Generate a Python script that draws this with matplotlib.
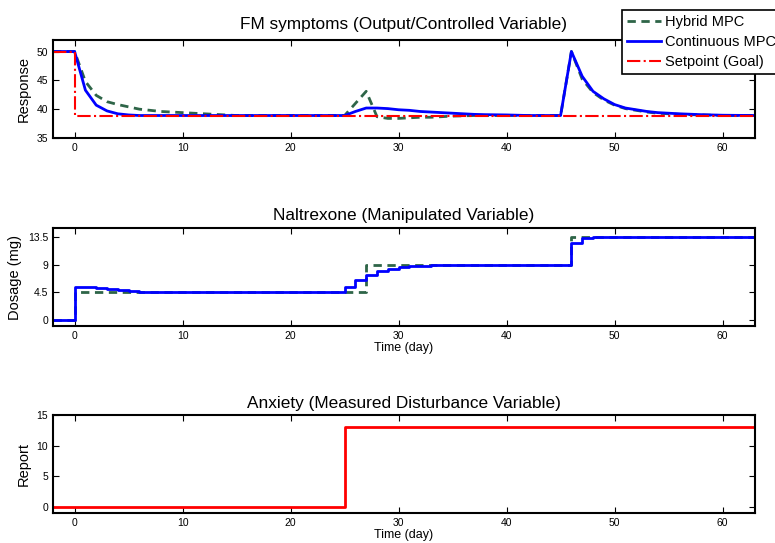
import numpy as np
import matplotlib
matplotlib.use('Agg')
import matplotlib.pyplot as plt

plt.rcParams['font.family'] = ['Liberation Sans', 'DejaVu Sans']

# FM symptoms response (days, values)
resp_days_cont = [-2, 0, 1, 2, 3, 4, 5, 6, 25, 26, 27, 28, 29, 30, 31, 32, 33, 34, 35, 36, 37, 38, 40, 42,
                  45, 46, 47, 48, 49, 50, 51, 52, 53, 54, 55, 56, 58, 60, 63]
resp_cont = [50, 50, 43.3, 40.7, 39.7, 39.2, 39.0, 38.9, 38.9, 39.6, 40.2, 40.2, 40.1, 39.9, 39.8, 39.6, 39.5,
             39.4, 39.3, 39.2, 39.1, 39.05, 39.0, 38.9,
             38.9, 50.0, 45.7, 43.1, 41.8, 40.8, 40.2, 39.9, 39.6, 39.4, 39.3, 39.2, 39.05, 38.95, 38.9]

resp_days_hyb = [-2, 0, 1, 2, 3, 4, 5, 6, 7, 8, 9, 10, 12, 15, 25, 26, 27, 28, 29, 30, 31, 32, 33, 34, 35, 37,
                 45, 46, 47, 48, 49, 50, 51, 52, 53, 54, 55, 56, 58, 60, 63]
resp_hyb = [50, 50, 44.8, 42.4, 41.3, 40.8, 40.4, 40.0, 39.8, 39.6, 39.5, 39.4, 39.2, 38.9, 38.9, 41.0, 43.1,
            38.7, 38.4, 38.4, 38.5, 38.6, 38.6, 38.7, 38.8, 38.9,
            38.9, 50.0, 45.2, 42.9, 41.6, 40.7, 40.1, 39.8, 39.5, 39.3, 39.2, 39.1, 39.0, 38.9, 38.9]

setpoint_days = [-2, 0, 0, 63]
setpoint = [50, 50, 38.9, 38.9]

# Naltrexone dosage (step, value holds from day until next day)
dose_days_cont = [-2, 0, 2, 3, 4, 5, 6, 7, 8, 25, 26, 27, 28, 29, 30, 31, 33, 46, 47, 48, 63]
dose_cont = [0, 5.4, 5.2, 5.0, 4.8, 4.7, 4.6, 4.55, 4.5, 5.3, 6.5, 7.4, 7.9, 8.3, 8.6, 8.8, 9.0, 12.6, 13.3,
             13.5, 13.5]

dose_days_hyb = [-2, 0, 27, 46, 63]
dose_hyb = [0, 4.5, 9.0, 13.5, 13.5]

# Anxiety disturbance
anx_days = [-2, 25, 63]
anxiety = [0, 13, 13]

green = '#2e6548'
blue = '#0000ff'
red = '#ff0000'

fig = plt.figure(figsize=(7.75, 5.43), dpi=100)
h = 98 / 543
ax1 = fig.add_axes([53 / 775, (543 - 138) / 543, 702 / 775, h])
ax2 = fig.add_axes([53 / 775, (543 - 326) / 543, 702 / 775, h])
ax3 = fig.add_axes([53 / 775, (543 - 513) / 543, 702 / 775, h])

# top panel
l1, = ax1.plot(resp_days_hyb, resp_hyb, '--', color=green, lw=2, dashes=(3, 2))
l2, = ax1.plot(resp_days_cont, resp_cont, '-', color=blue, lw=2)
l3, = ax1.plot(setpoint_days, setpoint, '-.', color=red, lw=1.5)
ax1.set_ylim(35, 52)
ax1.set_yticks([35, 40, 45, 50])
ax1.set_ylabel('Response', fontsize=10.5)
ax1.set_title('FM symptoms (Output/Controlled Variable)', fontsize=12.4, pad=8)

# middle panel
ax2.step(dose_days_hyb, dose_hyb, where='post', ls='--', color=green, lw=2, dashes=(3, 2))
ax2.step(dose_days_cont, dose_cont, where='post', color=blue, lw=2)
ax2.set_ylim(-1, 15)
ax2.set_yticks([0, 4.5, 9, 13.5])
ax2.set_yticklabels(['0', '4.5', '9', '13.5'])
ax2.set_ylabel('Dosage (mg)', fontsize=10.5)
ax2.set_xlabel('Time (day)', fontsize=9, labelpad=1)
ax2.set_title('Naltrexone (Manipulated Variable)', fontsize=12.4, pad=6)

# bottom panel
ax3.step(anx_days, anxiety, where='post', color=red, lw=2)
ax3.set_ylim(-1, 15)
ax3.set_yticks([0, 5, 10, 15])
ax3.set_ylabel('Report', fontsize=10.5)
ax3.set_xlabel('Time (day)', fontsize=9, labelpad=1)
ax3.set_title('Anxiety (Measured Disturbance Variable)', fontsize=12.4, pad=5)

for ax in (ax1, ax2, ax3):
    ax.set_xlim(-2, 63)
    ax.set_xticks([0, 10, 20, 30, 40, 50, 60])
    ax.tick_params(direction='in', top=True, right=True, length=4, labelsize=7.5, width=0.8)
    for s in ax.spines.values():
        s.set_linewidth(1.5)

leg = fig.legend([l1, l2, l3], ['Hybrid MPC', 'Continuous MPC', 'Setpoint (Goal)'],
                 loc='upper left', bbox_to_anchor=(622 / 775, 1 - 10 / 543), fontsize=10.5,
                 fancybox=False, framealpha=1, edgecolor='black', handlelength=2.3,
                 handletextpad=0.3, borderpad=0.35, labelspacing=0.42, borderaxespad=0)
leg.get_frame().set_linewidth(1.2)

fig.savefig('out.png', dpi=100)
